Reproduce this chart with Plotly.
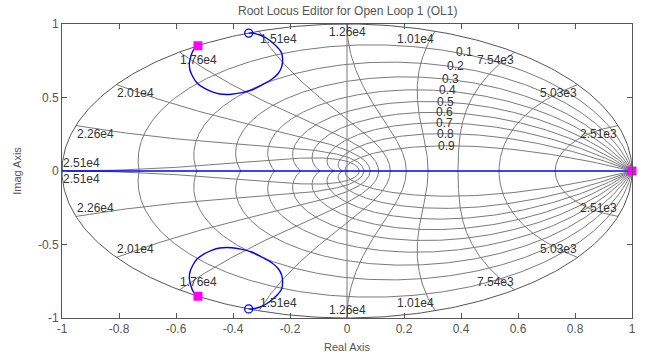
import numpy as np
import plotly.graph_objects as go

# ---------------- data ----------------
Ts = 1.25e-4                       # sample time (Nyquist = pi/Ts = 2.51e4 rad/s)
zeta_vals = [0.1, 0.2, 0.3, 0.4, 0.5, 0.6, 0.7, 0.8, 0.9]
zeta_labels = ["0.1", "0.2", "0.3", "0.4", "0.5", "0.6", "0.7", "0.8", "0.9"]
wn_fracs = [0.1, 0.2, 0.3, 0.4, 0.5, 0.6, 0.7, 0.8, 0.9, 1.0]
wn_labels = ["2.51e3", "5.03e3", "7.54e3", "1.01e4", "1.26e4",
             "1.51e4", "1.76e4", "2.01e4", "2.26e4", "2.51e4"]

pole_re = [-0.523, -0.523, 1.0]
pole_im = [0.852, -0.852, 0.0]
zero_re = [-0.345, -0.345]
zero_im = [0.938, -0.938]

# complex branch (upper half) from pole to zero; lower branch is its conjugate
branch_re = [-0.523, -0.539, -0.548, -0.553, -0.551, -0.541, -0.527, -0.504, -0.475,
             -0.446, -0.405, -0.369, -0.334, -0.299, -0.264, -0.241, -0.229, -0.226,
             -0.229, -0.241, -0.259, -0.282, -0.305, -0.329, -0.345]
branch_im = [0.852, 0.823, 0.778, 0.733, 0.687, 0.641, 0.601, 0.567, 0.540,
             0.524, 0.522, 0.533, 0.551, 0.585, 0.624, 0.665, 0.710, 0.755,
             0.801, 0.835, 0.869, 0.903, 0.925, 0.937, 0.938]
# real-axis branch (pole at z=1 going to -inf)
real_branch_re = [1.0, -1.5]
real_branch_im = [0.0, 0.0]

x_ticks = [-1, -0.8, -0.6, -0.4, -0.2, 0, 0.2, 0.4, 0.6, 0.8, 1]
x_ticktext = ["-1", "-0.8", "-0.6", "-0.4", "-0.2", "0", "0.2", "0.4", "0.6", "0.8", "1"]
y_ticks = [-1, -0.5, 0, 0.5, 1]
y_ticktext = ["-1", "-0.5", "0", "0.5", "1"]

# ---------------- styling ----------------
FONT = "Liberation Sans, Arial, Helvetica, sans-serif"
GRID_C = "#7a7a7a"
AX_C = "#555555"
LBL_C = "#333333"

fig = go.Figure()

# z-plane grid (zgrid geometry)
gx, gy = [], []
th = np.linspace(0, np.pi, 300)
for z in zeta_vals:
    m = np.tan(np.arcsin(z))
    zz = np.exp(th * (-m + 1j))
    for sgn in (1, -1):
        gx += list(zz.real) + [None]
        gy += list(sgn * zz.imag) + [None]
ph = np.linspace(np.pi / 2, np.pi, 200)
for f in wn_fracs:
    w = f * np.pi
    zz = np.exp(w * np.exp(1j * ph))
    for sgn in (1, -1):
        gx += list(zz.real) + [None]
        gy += list(sgn * zz.imag) + [None]
gx += [0, 0, None]
gy += [-1, 1, None]
fig.add_trace(go.Scatter(x=gx, y=gy, mode="lines", line=dict(color=GRID_C, width=1),
                         hoverinfo="skip", showlegend=False))

# unit circle
tc = np.linspace(0, 2 * np.pi, 400)
fig.add_trace(go.Scatter(x=np.cos(tc), y=np.sin(tc), mode="lines",
                         line=dict(color="#555555", width=1), hoverinfo="skip",
                         showlegend=False))

# root locus branches
BLUE = "#0000ff"
fig.add_trace(go.Scatter(x=real_branch_re, y=real_branch_im, mode="lines",
                         line=dict(color=BLUE, width=1.4), showlegend=False))
fig.add_trace(go.Scatter(x=branch_re, y=branch_im, mode="lines",
                         line=dict(color=BLUE, width=1.4, shape="spline"), showlegend=False))
fig.add_trace(go.Scatter(x=branch_re, y=[-v for v in branch_im], mode="lines",
                         line=dict(color=BLUE, width=1.4, shape="spline"), showlegend=False))

# zeros and poles
fig.add_trace(go.Scatter(x=zero_re, y=zero_im, mode="markers",
                         marker=dict(symbol="circle-open", size=8, color=BLUE,
                                     line=dict(width=1.3, color=BLUE)),
                         showlegend=False, cliponaxis=False))
fig.add_trace(go.Scatter(x=pole_re, y=pole_im, mode="markers",
                         marker=dict(symbol="square", size=9, color="#ff00ff",
                                     line=dict(width=0)),
                         showlegend=False, cliponaxis=False))

ann = []
for f, lab in zip(wn_fracs, wn_labels):
    w = f * np.pi
    px, py = np.cos(w), np.sin(w)
    if abs(px) < 0.02:
        xa = "center"
    elif px < 0:
        xa = "left"
    else:
        xa = "right"
    if f >= 1.0:
        py = 0.0
        ups = ("bottom", "top")
    else:
        ups = ("top", "bottom")
    for sgn, ya in zip((1, -1), ups):
        ann.append(dict(x=px, y=sgn * py, text=lab, showarrow=False, xanchor=xa,
                        yanchor=ya, borderpad=0,
                        font=dict(family=FONT, size=12, color=LBL_C)))
for z, lab in zip(zeta_vals, zeta_labels):
    w = 1.14
    zz = np.exp(w * (-z + 1j * np.sqrt(1 - z * z)))
    ann.append(dict(x=zz.real, y=zz.imag, text=lab, showarrow=False, xanchor="left",
                    yanchor="middle", borderpad=0,
                    font=dict(family=FONT, size=12, color=LBL_C)))

ann.append(dict(x=0.5, y=1, xref="paper", yref="paper", yshift=4,
                text="Root Locus Editor for Open Loop 1 (OL1)",
                showarrow=False, xanchor="center", yanchor="bottom",
                font=dict(family=FONT, size=12, color="#555555")))

axis_common = dict(showgrid=False, zeroline=False, showline=True, linecolor=AX_C,
                   linewidth=1, mirror="ticks", ticks="inside", ticklen=5,
                   tickcolor=AX_C, tickfont=dict(family=FONT, size=12, color="#555555"),
                   automargin=False)

fig.update_layout(
    width=651, height=360,
    margin=dict(l=62, r=19, t=24, b=42),
    paper_bgcolor="white", plot_bgcolor="white",
    annotations=ann,
    xaxis=dict(range=[-1, 1], tickvals=x_ticks, ticktext=x_ticktext,
               title=dict(text="Real Axis", font=dict(family=FONT, size=11, color="#555555"),
                          standoff=7), **axis_common),
    yaxis=dict(range=[-1, 1], tickvals=y_ticks, ticktext=y_ticktext,
               title=dict(text="Imag Axis", font=dict(family=FONT, size=11, color="#555555"),
                          standoff=14), **axis_common),
)

fig.write_html("out.html", config={"displayModeBar": False},
               post_script="document.body.style.margin='0';document.body.style.overflow='hidden';")
